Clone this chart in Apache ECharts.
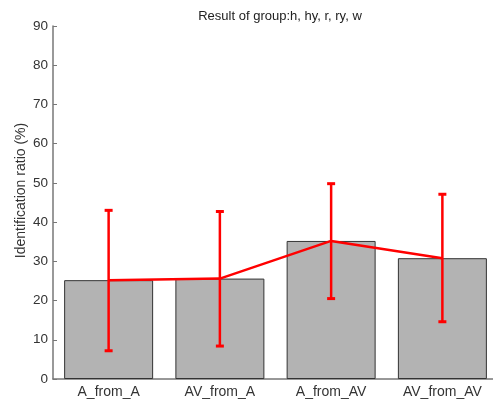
<!DOCTYPE html>
<html><head><meta charset="utf-8">
<script src="https://cdn.jsdelivr.net/npm/echarts@6/dist/echarts.min.js"></script>
<style>html,body{margin:0;padding:0;background:#fff}#c{width:493px;height:402px}</style>
</head><body><div id="c"></div>
<script>
var categories = ['A_from_A', 'AV_from_A', 'A_from_AV', 'AV_from_AV'];
var means = [25.2, 25.6, 35.2, 30.8];
var lows = [7.2, 8.4, 20.5, 14.6];
var highs = [43.0, 42.7, 49.8, 47.1];
var yTicks = [0, 10, 20, 30, 40, 50, 60, 70, 80, 90];

var errData = categories.map(function (c, i) { return [i, lows[i], highs[i]]; });
var chart = echarts.init(document.getElementById('c'), null, {renderer: 'canvas'});
var font = 'Liberation Sans, Arial, sans-serif';
chart.setOption({
  animation: false,
  backgroundColor: '#fff',
  title: {
    text: 'Result of group:h, hy, r, ry, w',
    left: 275, top: 5, textAlign: 'center',
    textStyle: {fontFamily: font, fontSize: 13, fontWeight: 'normal', color: '#222'}
  },
  grid: {left: 53, top: 26, right: -5, bottom: 23, outerBoundsMode: 'none', containLabel: false},
  xAxis: {
    type: 'category', data: categories,
    axisLine: {lineStyle: {color: '#777', width: 1.5}},
    axisTick: {show: false},
    axisLabel: {fontFamily: font, fontSize: 14, color: '#333', margin: 6}
  },
  yAxis: {
    type: 'value', min: yTicks[0], max: yTicks[yTicks.length - 1], interval: 10,
    name: 'Identification ratio (%)', nameLocation: 'middle', nameGap: 25, nameMoveOverlap: false,
    nameTextStyle: {fontFamily: font, fontSize: 14, color: '#333', padding: [0, 0, 0, 24]},
    axisLine: {show: true, lineStyle: {color: '#777', width: 1.5}},
    axisTick: {show: true, inside: true, length: 4, lineStyle: {color: '#777'}},
    axisLabel: {fontFamily: font, fontSize: 13.5, color: '#333', margin: 5},
    splitLine: {show: false}
  },
  series: [
    {
      type: 'bar', data: means, barCategoryGap: '20%',
      itemStyle: {color: '#b3b3b3', borderColor: '#333', borderWidth: 1},
      z: 1
    },
    {
      type: 'line', data: means, symbol: 'none',
      lineStyle: {color: '#f00', width: 2.5}, z: 3
    },
    {
      type: 'custom', data: errData, z: 4,
      renderItem: function (params, api) {
        var x = api.value(0);
        var lo = api.coord([x, api.value(1)]);
        var hi = api.coord([x, api.value(2)]);
        var cap = 4;
        return {
          type: 'group',
          children: [
            {type: 'line', shape: {x1: lo[0], y1: lo[1], x2: hi[0], y2: hi[1]}, style: {stroke: '#f00', lineWidth: 2.5}},
            {type: 'line', shape: {x1: lo[0] - cap, y1: lo[1], x2: lo[0] + cap, y2: lo[1]}, style: {stroke: '#f00', lineWidth: 3}},
            {type: 'line', shape: {x1: hi[0] - cap, y1: hi[1], x2: hi[0] + cap, y2: hi[1]}, style: {stroke: '#f00', lineWidth: 3}}
          ]
        };
      }
    }
  ]
});
</script></body></html>
